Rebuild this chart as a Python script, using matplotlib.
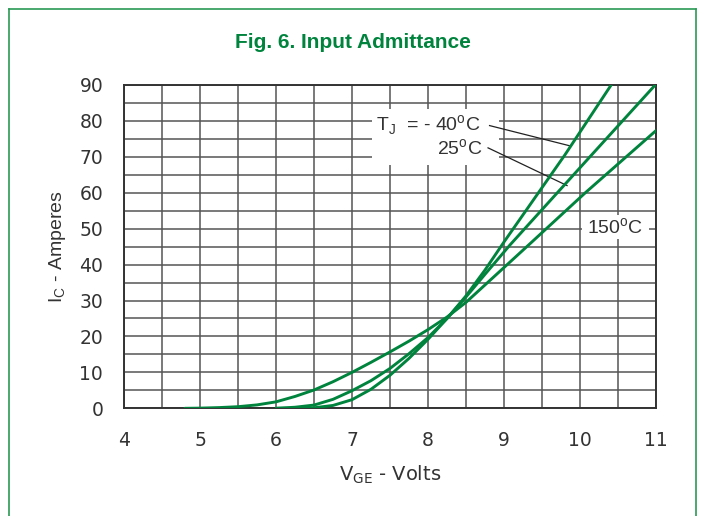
import matplotlib
matplotlib.use("Agg")
import matplotlib.pyplot as plt
from matplotlib.patches import Rectangle
from matplotlib.lines import Line2D

plt.rcParams['font.family'] = ['Liberation Sans', 'DejaVu Sans']

# data (V_GE in volts, I_C in amperes)
v_m40 = [6.0, 6.25, 6.5, 6.75, 7.0, 7.25, 7.5, 7.75, 8.0, 8.25, 8.5, 8.75, 9.0, 9.8, 10.41]
i_m40 = [0, 0.02, 0.15, 0.8, 2.4, 5.3, 9.2, 13.9, 19.2, 25.0, 31.3, 38.5, 46.3, 70.5, 90]

v_25 = [6.0, 6.25, 6.5, 6.75, 7.0, 7.25, 7.5, 7.75, 8.0, 8.25, 8.5, 8.75, 9.08, 10.13, 10.99]
i_25 = [0, 0.3, 0.9, 2.5, 4.9, 7.7, 11.1, 15.2, 19.7, 25.0, 31.0, 37.3, 45.5, 70, 90]

v_150 = [4.8, 5.0, 5.25, 5.5, 5.75, 6.0, 6.25, 6.5, 6.75, 7.0, 7.25, 7.5, 7.75, 8.0,
         8.25, 8.5, 9.3, 10.07, 11.0]
i_150 = [0, 0.05, 0.2, 0.45, 0.95, 1.8, 3.3, 5.1, 7.4, 10.0, 12.8, 15.7, 18.7, 21.9,
         25.4, 29.5, 45, 60, 77.3]

x_ticks = [4, 5, 6, 7, 8, 9, 10, 11]
y_ticks = [0, 10, 20, 30, 40, 50, 60, 70, 80, 90]

green = '#00843d'
grid_c = '#555555'
txt_c = '#333333'

fig = plt.figure(figsize=(7.01, 5.16), dpi=100)
ax = fig.add_axes([0.1769, 0.2087, 0.7589, 0.6266])

# grid every 0.5 V and 5 A
for gx in [4 + 0.5 * k for k in range(15)]:
    ax.axvline(gx, color=grid_c, lw=1.1, zorder=0.5)
for gy in range(0, 95, 5):
    ax.axhline(gy, color=grid_c, lw=1.1, zorder=0.5)

# white boxes behind labels
ax.add_patch(Rectangle((7.26, 67.6), 1.67, 15.8, facecolor='white', edgecolor='none', zorder=1))
ax.add_patch(Rectangle((10.02, 47.0), 0.89, 6.7, facecolor='white', edgecolor='none', zorder=1))

for v, i in [(v_m40, i_m40), (v_25, i_25), (v_150, i_150)]:
    ax.plot(v, i, color=green, lw=2.1, zorder=3, solid_capstyle='round',
            solid_joinstyle='round')

# leader lines
ax.plot([8.81, 9.86], [78.7, 73.1], color='#222222', lw=0.9, zorder=2)
ax.plot([8.79, 9.83], [72.5, 62.0], color='#222222', lw=0.9, zorder=2)

ax.text(7.31, 79, r'T$_\mathregular{J}$  = - 40$^\mathregular{o}$C', fontsize=14,
        color=txt_c, va='center', ha='left', zorder=4)
ax.text(8.71, 72.4, r'25$^\mathregular{o}$C', fontsize=14, color=txt_c,
        va='center', ha='right', zorder=4)
ax.text(10.46, 50.2, r'150$^\mathregular{o}$C', fontsize=14, color=txt_c,
        va='center', ha='center', zorder=4)

ax.set_xlim(4, 11)
ax.set_ylim(0, 90)
ax.set_xticks(x_ticks)
ax.set_yticks(y_ticks)
ax.tick_params(length=0, labelsize=13.5, colors=txt_c)
ax.tick_params(axis='x', pad=16)
ax.tick_params(axis='y', pad=15)
for lab in ax.get_xticklabels() + ax.get_yticklabels():
    lab.set_family(['DejaVu Sans'])
for s in ax.spines.values():
    s.set_color('#333333')
    s.set_linewidth(1.4)

ax.set_xlabel(r'V$_\mathregular{GE}$ - Volts', fontsize=14, color=txt_c, labelpad=10,
              family=['DejaVu Sans'])
ax.set_ylabel(r'I$_\mathregular{C}$ - Amperes', fontsize=14, color=txt_c, labelpad=8)

fig.text(0.503, 0.918, 'Fig. 6. Input Admittance', ha='center', va='center',
         fontsize=15, fontweight='bold', color=green)

# frame around the figure (open at the bottom)
fx0, fx1, fy1 = 9 / 701, 696 / 701, 1 - 9 / 516
for xs, ys in [([fx0, fx0], [0, fy1]), ([fx1, fx1], [0, fy1]), ([fx0, fx1], [fy1, fy1])]:
    fig.add_artist(Line2D(xs, ys, transform=fig.transFigure, color='#2a9a55', lw=1.2))

fig.savefig('out.png', dpi=100)
